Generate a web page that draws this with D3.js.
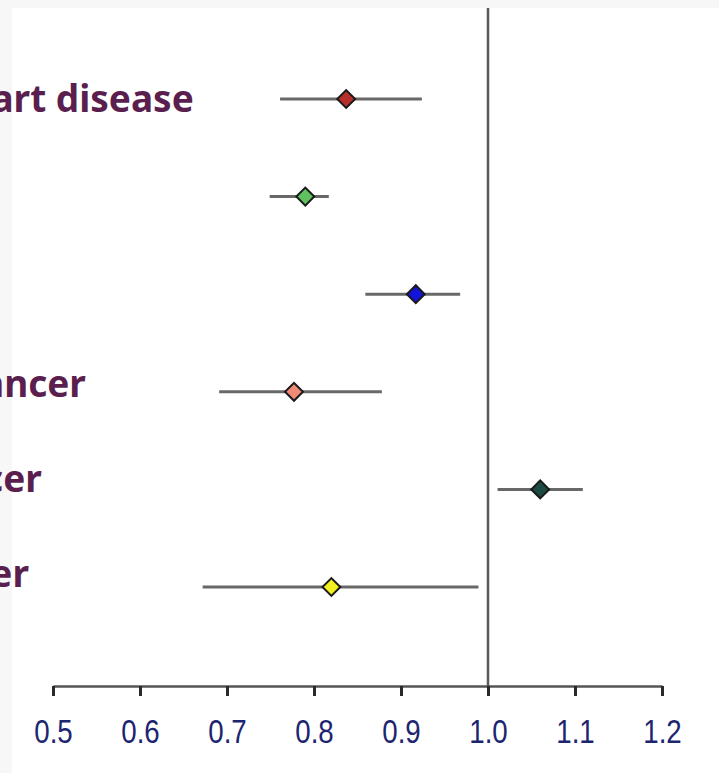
<!DOCTYPE html>
<html>
<head>
<meta charset="utf-8">
<script src="https://cdn.jsdelivr.net/npm/d3@7"></script>
<style>
  html, body { margin: 0; padding: 0; background: #f7f7f7; }
  svg { display: block; }
</style>
</head>
<body>
<svg></svg>
<script>
let outcomes = ['Coronary heart disease', 'Stroke', 'Diabetes', 'Colorectal cancer', 'Bladder cancer', 'Gastric cancer']
let estimates = [0.837, 0.790, 0.917, 0.777, 1.060, 0.820]
let lowerCI = [0.761, 0.749, 0.859, 0.691, 1.011, 0.672]
let upperCI = [0.924, 0.817, 0.968, 0.878, 1.109, 0.989]
let markerColors = ['#b8302c', '#5fc25f', '#1414d8', '#ef8a76', '#1d4a42', '#f2f020']
let tickValues = [0.5, 0.6, 0.7, 0.8, 0.9, 1.0, 1.1, 1.2]

let width = 719
let height = 773
let axisY = 686

let rows = outcomes.map((name, i) => {
    return {name: name, est: estimates[i], lo: lowerCI[i], hi: upperCI[i], color: markerColors[i]}
})

let svg = d3.select('svg')
    .attr('width', width)
    .attr('height', height)

// white plot page (screenshot has a grey frame at top and left)
svg.append('rect')
    .attr('x', 12)
    .attr('y', 8)
    .attr('width', width - 12)
    .attr('height', height - 8)
    .attr('fill', '#ffffff')

let xScale = d3.scaleLinear()
    .domain([0.5, 1.2])
    .range([53, 662])

let yScale = d3.scalePoint()
    .domain(outcomes)
    .range([99, 587])

let labelScale = d3.scalePoint()
    .domain(outcomes)
    .range([112, 587])

// reference line at 1.0
svg.append('line')
    .attr('x1', xScale(1.0))
    .attr('x2', xScale(1.0))
    .attr('y1', 8)
    .attr('y2', axisY)
    .attr('stroke', '#5a5a5a')
    .attr('stroke-width', 2.5)

// labels (cut off by the left edge)
svg.selectAll('.label')
    .data(rows)
    .enter()
    .append('text')
    .attr('class', 'label')
    .attr('x', -234)
    .attr('y', (d) => labelScale(d.name))
    .attr('fill', '#5a1f4e')
    .style('font-family', '"Noto Sans", sans-serif')
    .style('font-weight', 'bold')
    .style('font-size', '37px')
    .text((d) => d.name)

// confidence intervals
svg.selectAll('.ci')
    .data(rows)
    .enter()
    .append('line')
    .attr('class', 'ci')
    .attr('x1', (d) => xScale(d.lo))
    .attr('x2', (d) => xScale(d.hi))
    .attr('y1', (d) => yScale(d.name))
    .attr('y2', (d) => yScale(d.name))
    .attr('stroke', '#686868')
    .attr('stroke-width', 3)

// point estimates
svg.selectAll('.pt')
    .data(rows)
    .enter()
    .append('path')
    .attr('class', 'pt')
    .attr('d', d3.symbol().type(d3.symbolSquare).size(160))
    .attr('transform', (d) => 'translate(' + xScale(d.est) + ',' + yScale(d.name) + ') rotate(45)')
    .attr('fill', (d) => d.color)
    .attr('stroke', '#1a1a1a')
    .attr('stroke-width', 2)

// x axis
let xAxis = d3.axisBottom(xScale)
    .tickValues(tickValues)
    .tickFormat(d3.format('.1f'))
    .tickSize(10)
    .tickSizeOuter(0)
    .tickPadding(24)

let axisG = svg.append('g')
    .attr('transform', 'translate(0,' + axisY + ')')
    .call(xAxis)

axisG.select('.domain')
    .attr('stroke', '#555555')
    .attr('stroke-width', 2.5)

axisG.selectAll('.tick line')
    .attr('stroke', '#2a2a2a')
    .attr('stroke-width', 3)

axisG.selectAll('.tick text')
    .attr('fill', '#1c2570')
    .attr('transform', 'scale(0.84,1)')
    .style('font-family', '"Liberation Sans", Arial, sans-serif')
    .style('font-size', '33px')
</script>
</body>
</html>
